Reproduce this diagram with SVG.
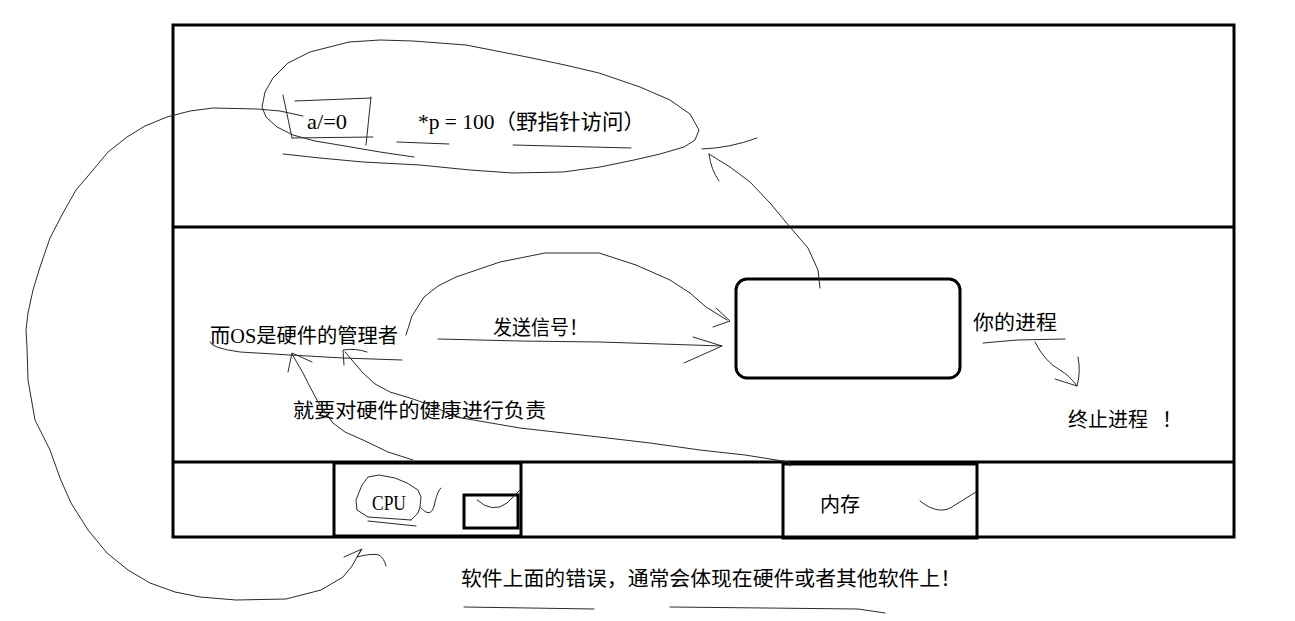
<svg xmlns="http://www.w3.org/2000/svg" width="1295" height="621" viewBox="0 0 1295 621">
<style>
.frame{fill:none;stroke:#000;stroke-width:3}
.hand{fill:none;stroke:#2a2a2a;stroke-width:1;stroke-linecap:round;stroke-linejoin:round}
.t{font-family:"Liberation Serif","Noto Sans CJK SC",serif;font-size:20px;fill:#000}
.lat{font-family:"Liberation Serif","Noto Sans CJK SC",serif;font-size:21px;fill:#000}
</style>
<rect width="1295" height="621" fill="#fff"/>
<g id="frame">
<rect class="frame" x="173" y="25" width="1061" height="512"/>
<line class="frame" x1="173" y1="227" x2="1234" y2="227"/>
<line class="frame" x1="173" y1="462" x2="1234" y2="462"/>
</g>
<g id="user-space">
<polyline class="hand" points="414,157 380,152 345,146 315,141 293,135 277,127 266,117 262,107 265,92 273,78 288,63 310,52 349,42 380,40 413,41 466,45 527,57 565,65 599,73 640,87 670,100 690,114 699,130 695,140 684,147 660,154 634,160 600,167 563,172 513,173 470,170 420,165 363,162 320,158 283,154"/>
<path class="hand" d="M283,95 L292,138 M295,101 L371,98 M371,97 L366,145 M292,138 L373,137"/>
<text class="lat" x="307" y="129" textLength="40" lengthAdjust="spacingAndGlyphs">a/=0</text>
<text class="lat" x="418" y="129" textLength="227" lengthAdjust="spacingAndGlyphs">*p = 100（野指针访问）</text>
<path class="hand" d="M397,142 L449,144 M513,145 L631,148"/>
</g>
<g id="os">
<text class="t" x="210" y="343" textLength="188" lengthAdjust="spacingAndGlyphs">而OS是硬件的管理者</text>
<path class="hand" d="M210,342 Q211,348 240,352 L290,355 L343,358 L402,360"/>
<text class="t" x="493" y="335" textLength="95" lengthAdjust="spacingAndGlyphs">发送信号！</text>
<text class="t" x="293" y="418" textLength="253" lengthAdjust="spacingAndGlyphs">就要对硬件的健康进行负责</text>
</g>
<g id="process">
<rect class="frame" x="736" y="279" width="224" height="99" rx="11"/>
<text class="t" x="973" y="330" textLength="84" lengthAdjust="spacingAndGlyphs">你的进程</text>
<path class="hand" d="M983,343 L1017,340 L1065,339"/>
<text class="t" x="1068" y="427" textLength="80" lengthAdjust="spacingAndGlyphs">终止进程</text>
<text class="t" x="1162" y="427">！</text>
</g>
<g id="cpu">
<rect class="frame" x="334" y="463" width="187" height="73"/>
<rect class="frame" x="464" y="495" width="54" height="33"/>
<text class="lat" x="372" y="510" textLength="34" lengthAdjust="spacingAndGlyphs">CPU</text>
<polyline class="hand" points="411,520 368,517 357,510 356,500 362,485 368,477 379,475 395,478 407,483 418,490 421,497 420,507 418,513 411,520"/>
<path class="hand" d="M368,521 L416,526 M421,508 Q432,520 435,502 Q438,490 441,488"/>
<path class="hand" d="M477,500 Q493,514 507,503 L520,490"/>
</g>
<g id="memory">
<rect class="frame" x="783" y="464" width="194" height="74"/>
<text class="t" x="820" y="512" textLength="40" lengthAdjust="spacingAndGlyphs">内存</text>
<path class="hand" d="M920,501 Q940,517 955,505 L976,492"/>
</g>
<g id="note">
<text class="t" x="461" y="586" textLength="500" lengthAdjust="spacingAndGlyphs">软件上面的错误，通常会体现在硬件或者其他软件上！</text>
<path class="hand" d="M464,607 L594,609 M670,607 L858,609 L885,613"/>
</g>
<g id="connectors">
<polyline class="hand" points="303,116 280,111 257,109 213,108 190,111 167,117 145,126 127,137 108,152 93,170 76,190 63,213 50,238 40,267 33,290 28,313 26,330 27,347 28,380 35,420 50,450 60,478 71,503 88,530 107,553 128,570 150,583 175,592 200,597 236,600 286,599 321,590 343,577 352,566 361,550"/>
<path class="hand" d="M344,557 L362,549 L357,557 Q372,553 379,555 Q384,558 386,566"/>
<polyline class="hand" points="406,335 412,316 424,297 438,286 456,277 500,262 545,253 599,253 636,265 670,280 690,293 706,307 727,320"/>
<path class="hand" d="M716,308 L730,321 L713,327"/>
<path class="hand" d="M438,339 L520,341 L600,342 L722,346 M693,337 L722,346 L684,363"/>
<polyline class="hand" points="820,288 818,270 808,248 790,227 770,203 750,182 730,167 709,154"/>
<path class="hand" d="M709,154 Q711,170 719,181 M702,149 Q730,148 757,138"/>
<polyline class="hand" points="413,460 388,452 363,440 345,432 333,423 325,412 317,400 309,385 303,373 292,354"/>
<path class="hand" d="M288,372 L292,353 L312,362"/>
<polyline class="hand" points="790,466 789,462 745,455 700,450 650,443 599,437 520,428 456,417 430,405 410,398 390,392 375,384 363,373 345,352"/>
<path class="hand" d="M344,365 L343,350 Q355,348 367,352"/>
<path class="hand" d="M1035,342 Q1045,362 1060,370 Q1070,376 1077,386 M1078,357 Q1081,372 1077,386 L1055,379"/>
</g>
</svg>
